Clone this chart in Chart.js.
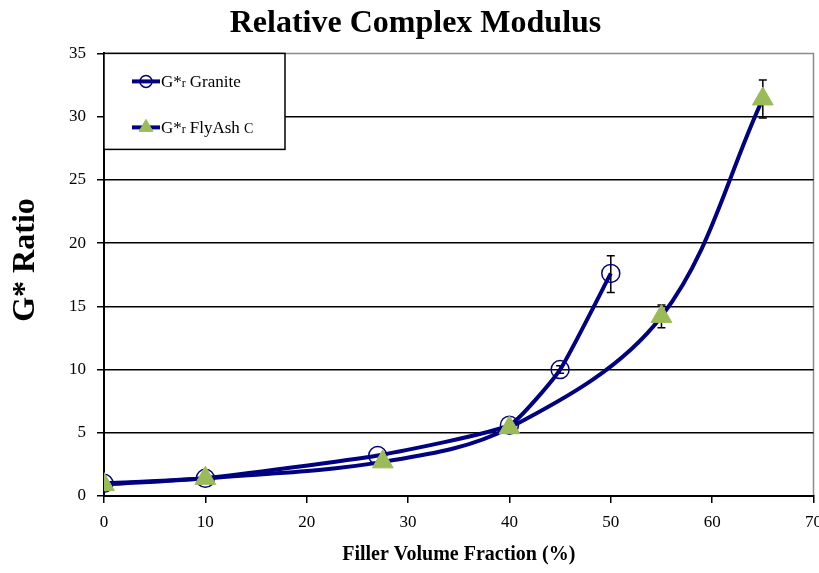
<!DOCTYPE html>
<html>
<head>
<meta charset="utf-8">
<script src="https://cdn.jsdelivr.net/npm/chart.js@4.4.1/dist/chart.umd.min.js"></script>
<style>
  html, body { margin: 0; padding: 0; background: #fff; overflow: hidden; }
  #wrap { width: 819px; height: 573px; overflow: hidden; }
</style>
</head>
<body>
<div id="wrap"><canvas id="relative_modulus"></canvas></div>
<script>
// filler volume fraction (%) and G* ratio for each filler
var granite_x = [0, 10, 27, 40, 45, 50];
var granite_y = [1.0, 1.4, 3.2, 5.6, 10.0, 17.6];
var granite_err_lo = [1.0, 1.4, 3.2, 5.5, 9.7, 16.1];
var granite_err_hi = [1.0, 1.4, 3.2, 5.7, 10.3, 19.0];

var flyash_x = [0, 10, 27.5, 40, 55, 65];
var flyash_y = [0.9, 1.4, 2.7, 5.4, 14.2, 31.4];
var flyash_err_lo = [0.9, 1.4, 2.7, 5.4, 13.3, 29.9];
var flyash_err_hi = [0.9, 1.4, 2.7, 5.4, 15.1, 32.9];

var x_ticks = [0, 10, 20, 30, 40, 50, 60, 70];
var y_ticks = [0, 5, 10, 15, 20, 25, 30, 35];

var serif = "'Liberation Serif', 'Times New Roman', serif";
var navy = '#000080';
var green = '#9BBB59';

function points(xs, ys) {
   return xs.map(function (x, i) { return { x: x, y: ys[i] }; });
}

// vertical error bars with caps, drawn under the markers
var errorBars = {
   id: 'errorBars',
   beforeDatasetsDraw: function (chart) {
      var ctx = chart.ctx;
      var xs = chart.scales.x, ys = chart.scales.y;
      ctx.save();
      ctx.strokeStyle = '#000';
      ctx.lineWidth = 1.5;
      chart.data.datasets.forEach(function (ds) {
         ds.data.forEach(function (p, i) {
            var lo = ds.errLo[i], hi = ds.errHi[i];
            if (hi - lo < 0.05) return;
            var px = xs.getPixelForValue(p.x);
            var y1 = ys.getPixelForValue(lo), y2 = ys.getPixelForValue(hi);
            ctx.beginPath();
            ctx.moveTo(px, y1); ctx.lineTo(px, y2);
            ctx.moveTo(px - 4, y1); ctx.lineTo(px + 4, y1);
            ctx.moveTo(px - 4, y2); ctx.lineTo(px + 4, y2);
            ctx.stroke();
         });
      });
      ctx.restore();
   }
};

// gray frame on top and right of the plot area, and the rotated y title
var plotFrame = {
   id: 'plotFrame',
   beforeDraw: function (chart) {
      var a = chart.chartArea, ctx = chart.ctx;
      ctx.save();
      ctx.strokeStyle = '#8c8c8c';
      ctx.lineWidth = 1.5;
      ctx.beginPath();
      ctx.moveTo(a.left, a.top);
      ctx.lineTo(a.right, a.top);
      ctx.lineTo(a.right, a.bottom);
      ctx.stroke();

      ctx.translate(26, 260);
      ctx.rotate(-Math.PI / 2);
      ctx.fillStyle = '#000';
      ctx.font = 'bold 32px ' + serif;
      ctx.textAlign = 'center';
      ctx.textBaseline = 'middle';
      ctx.fillText('G* Ratio', 0, 0);
      ctx.restore();
   }
};

// boxed legend in the top left corner, with a small "r" subscript
var boxLegend = {
   id: 'boxLegend',
   afterDraw: function (chart) {
      var a = chart.chartArea, ctx = chart.ctx;
      var x0 = a.left, y0 = a.top, w = 181, h = 96;
      ctx.save();
      ctx.fillStyle = '#fff';
      ctx.fillRect(x0, y0, w, h);
      ctx.strokeStyle = '#000';
      ctx.lineWidth = 1.5;
      ctx.strokeRect(x0, y0, w, h);
      var rows = [
         { ds: chart.data.datasets[0], y: y0 + 28, name: 'Granite', tail: '', size: 6 },
         { ds: chart.data.datasets[1], y: y0 + 74, name: 'FlyAsh', tail: 'C', size: 8 }
      ];
      rows.forEach(function (r) {
         ctx.strokeStyle = navy;
         ctx.lineWidth = 4;
         ctx.beginPath();
         ctx.moveTo(x0 + 28, r.y); ctx.lineTo(x0 + 56, r.y);
         ctx.stroke();
         ctx.fillStyle = r.ds.pointBackgroundColor;
         ctx.strokeStyle = r.ds.pointBorderColor;
         ctx.lineWidth = r.ds.pointBorderWidth;
         Chart.helpers.drawPoint(ctx, {
            pointStyle: r.ds.pointStyle,
            radius: r.size,
            borderWidth: r.ds.pointBorderWidth
         }, x0 + 42, r.y);
         ctx.fillStyle = '#000';
         ctx.textBaseline = 'alphabetic';
         var tx = x0 + 57, by = r.y + 6;
         ctx.font = '17px ' + serif;
         ctx.fillText('G*', tx, by);
         tx += ctx.measureText('G*').width;
         ctx.font = '12px ' + serif;
         ctx.fillText('r', tx, by);
         tx += ctx.measureText('r ').width + 1;
         ctx.font = '17px ' + serif;
         ctx.fillText(r.name, tx, by);
         if (r.tail) {
            tx += ctx.measureText(r.name + ' ').width;
            ctx.font = '14px ' + serif;
            ctx.fillText(r.tail, tx, by);
         }
      });
      ctx.restore();
   }
};

function relative_modulus() {
   var config = {
      type: 'line',
      data: {
         datasets: [{
            label: 'G*r Granite',
            data: points(granite_x, granite_y),
            errLo: granite_err_lo,
            errHi: granite_err_hi,
            borderColor: navy,
            borderWidth: 4,
            tension: 0.15,
            fill: false,
            pointStyle: 'circle',
            pointRadius: 9,
            pointBackgroundColor: 'rgba(0,0,0,0)',
            pointBorderColor: navy,
            pointBorderWidth: 1.5,
            order: 2
         }, {
            label: 'G*r FlyAsh C',
            data: points(flyash_x, flyash_y),
            errLo: flyash_err_lo,
            errHi: flyash_err_hi,
            borderColor: navy,
            borderWidth: 4,
            tension: 0.35,
            fill: false,
            pointStyle: 'triangle',
            pointRadius: 12,
            pointBackgroundColor: green,
            pointBorderColor: green,
            pointBorderWidth: 1,
            order: 1
         }]
      },
      options: {
         responsive: false,
         animation: false,
         layout: { padding: 0 },
         plugins: {
            legend: { display: false },
            tooltip: { enabled: false },
            title: {
               display: true,
               text: 'Relative Complex Modulus',
               color: '#000',
               font: { family: serif, size: 32, weight: 'bold' },
               padding: { top: 5, bottom: 10 }
            }
         },
         scales: {
            x: {
               type: 'linear',
               min: 0,
               max: 70,
               afterBuildTicks: function (s) { s.ticks = x_ticks.map(function (v) { return { value: v }; }); },
               afterFit: function (s) { s.height = 77; },
               ticks: { color: '#000', font: { family: serif, size: 17 }, padding: 9, maxRotation: 0 },
               grid: { drawOnChartArea: false, drawTicks: true, tickLength: 7, color: '#000', lineWidth: 1.5 },
               border: { color: '#000', width: 2 },
               title: {
                  display: true,
                  text: 'Filler Volume Fraction (%)',
                  color: '#000',
                  font: { family: serif, size: 20, weight: 'bold' },
                  padding: { top: 0, bottom: 6 }
               }
            },
            y: {
               type: 'linear',
               min: 0,
               max: 35,
               afterBuildTicks: function (s) { s.ticks = y_ticks.map(function (v) { return { value: v }; }); },
               afterFit: function (s) { s.width = 104; },
               ticks: { color: '#000', font: { family: serif, size: 17 }, padding: 11 },
               grid: {
                  color: function (c) { return c.tick && c.tick.value === 35 ? 'rgba(0,0,0,0)' : '#000'; },
                  lineWidth: 1.5,
                  tickLength: 7,
                  tickColor: '#000'
               },
               border: { color: '#000', width: 2 }
            }
         }
      },
      plugins: [plotFrame, errorBars, boxLegend]
   };
   var cv = document.getElementById('relative_modulus');
   cv.width = 831;
   cv.height = 573;
   return new Chart(cv.getContext('2d'), config);
}

relative_modulus();
</script>
</body>
</html>
